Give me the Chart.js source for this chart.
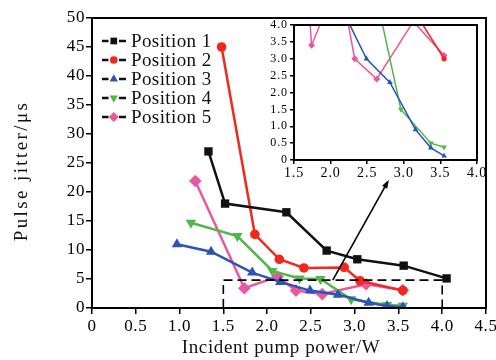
<!DOCTYPE html>
<html>
<head>
<meta charset="utf-8">
<script src="https://cdn.jsdelivr.net/npm/chart.js@4.4.1/dist/chart.umd.min.js"></script>
<style>
  html, body { margin: 0; padding: 0; background: #fff; }
  #wrap { position: relative; width: 496px; height: 360px; }
  #main { position: absolute; left: 0; top: 0; }
  #inset { position: absolute; left: 258px; top: 20px; }
</style>
</head>
<body>
<div id="wrap">
  <canvas id="main" width="496" height="360"></canvas>
  <canvas id="inset" width="234" height="162"></canvas>
</div>
<script>
// values
const seriesNames = ["Position 1", "Position 2", "Position 3", "Position 4", "Position 5"];

const pos1Power = [1.33, 1.52, 2.22, 2.68, 3.03, 3.56, 4.05];
const pos1Jitter = [27, 18, 16.5, 9.9, 8.4, 7.3, 5.1];
const pos2Power = [1.48, 1.86, 2.14, 2.42, 2.88, 3.06, 3.55];
const pos2Jitter = [45, 12.7, 8.4, 6.9, 7.0, 4.7, 3.0];
const pos3Power = [0.97, 1.36, 1.83, 2.15, 2.49, 2.81, 3.16, 3.37, 3.55];
const pos3Jitter = [11.0, 9.7, 6.1, 4.5, 3.0, 2.3, 0.9, 0.36, 0.12];
const pos4Power = [1.13, 1.66, 2.06, 2.37, 2.61, 2.96, 3.37, 3.55];
const pos4Jitter = [14.7, 12.4, 6.4, 5.1, 5.0, 1.5, 0.5, 0.38];
const pos5Power = [1.18, 1.74, 2.12, 2.33, 2.63, 3.13, 3.55];
const pos5Jitter = [21.9, 3.4, 5.4, 3.0, 2.4, 4.1, 3.1];

const xTickLabels = ["0", "0.5", "1.0", "1.5", "2.0", "2.5", "3.0", "3.5", "4.0", "4.5"];
const yTickLabels = ["0", "5", "10", "15", "20", "25", "30", "35", "40", "45", "50"];
const insetXTickLabels = ["1.5", "2.0", "2.5", "3.0", "3.5", "4.0"];
const insetYTickLabels = ["0", "0.5", "1.0", "1.5", "2.0", "2.5", "3.0", "3.5", "4.0"];

// zoomed region marked on the main plot, and the arrow to the inset
const zoomBoxX = [1.5, 1.5, 4.0, 4.0];
const zoomBoxY = [0, 4.8, 4.8, 0];
const arrowX = [2.75, 3.39];
const arrowY = [4.8, 22.1];

const serif = "'Liberation Serif', 'Times New Roman', serif";
const colors = ["#111111", "#f0281e", "#2b53b8", "#4fb847", "#e9589f"];
const markers = [
  { style: "rect", rotation: 0, radius: 5.9 },
  { style: "circle", rotation: 0, radius: 4.8 },
  { style: "triangle", rotation: 0, radius: 6 },
  { style: "triangle", rotation: 180, radius: 6 },
  { style: "rectRot", rotation: 0, radius: 6.3 },
];

const powers = [pos1Power, pos2Power, pos3Power, pos4Power, pos5Power];
const jitters = [pos1Jitter, pos2Jitter, pos3Jitter, pos4Jitter, pos5Jitter];

function toPoints(xs, ys) {
  return xs.map((x, i) => ({ x, y: ys[i] }));
}

function makeDatasets(small) {
  return seriesNames.map((name, i) => ({
    label: name,
    data: toPoints(powers[i], jitters[i]),
    borderColor: colors[i],
    backgroundColor: colors[i],
    borderWidth: small ? 1.5 : 2.5,
    pointStyle: markers[i].style,
    rotation: markers[i].rotation,
    pointRadius: small ? markers[i].radius * 0.55 : markers[i].radius,
    pointBorderWidth: 0,
    pointHoverRadius: 0,
    tension: 0,
  }));
}

function axisStyle(fontSize, tickLength, labels, padding, step) {
  return {
    ticks: {
      font: { family: serif, size: fontSize },
      color: "#000",
      padding: padding,
      stepSize: step,
      autoSkip: false,
      maxRotation: 0,
      callback: (value, index) => labels[index],
    },
    grid: {
      display: true,
      drawOnChartArea: false,
      drawTicks: true,
      tickLength: tickLength,
      color: "#000",
      lineWidth: 1.5,
    },
    border: { display: true, color: "#000", width: 2 },
  };
}

const spacing = {
  id: "spacing",
  beforeDraw(chart) {
    chart.ctx.letterSpacing = chart.canvas.id === "main" ? "0.6px" : "0.9px";
  },
};

const frame = {
  id: "frame",
  afterDraw(chart) {
    const { ctx, chartArea } = chart;
    ctx.save();
    ctx.strokeStyle = "#000";
    ctx.lineWidth = 2;
    ctx.strokeRect(chartArea.left, chartArea.top, chartArea.right - chartArea.left, chartArea.bottom - chartArea.top);
    ctx.restore();
  },
};

const annotations = {
  id: "annotations",
  afterDatasetsDraw(chart) {
    const { ctx, scales } = chart;
    const sx = scales.x;
    const sy = scales.y;
    ctx.save();
    // dashed box
    ctx.strokeStyle = "#000";
    ctx.lineWidth = 1.6;
    ctx.setLineDash([9, 5]);
    ctx.beginPath();
    zoomBoxX.forEach((x, i) => {
      const px = sx.getPixelForValue(x);
      const py = sy.getPixelForValue(zoomBoxY[i]);
      if (i === 0) ctx.moveTo(px, py); else ctx.lineTo(px, py);
    });
    ctx.stroke();
    ctx.setLineDash([]);
    // arrow
    const x0 = sx.getPixelForValue(arrowX[0]);
    const y0 = sy.getPixelForValue(arrowY[0]);
    const x1 = sx.getPixelForValue(arrowX[1]);
    const y1 = sy.getPixelForValue(arrowY[1]);
    const angle = Math.atan2(y1 - y0, x1 - x0);
    const head = 9;
    ctx.lineWidth = 1.6;
    ctx.beginPath();
    ctx.moveTo(x0, y0);
    ctx.lineTo(x1 - Math.cos(angle) * head * 0.8, y1 - Math.sin(angle) * head * 0.8);
    ctx.stroke();
    ctx.fillStyle = "#000";
    ctx.beginPath();
    ctx.moveTo(x1, y1);
    ctx.lineTo(x1 - head * Math.cos(angle - 0.33), y1 - head * Math.sin(angle - 0.33));
    ctx.lineTo(x1 - head * Math.cos(angle + 0.33), y1 - head * Math.sin(angle + 0.33));
    ctx.closePath();
    ctx.fill();
    ctx.restore();
  },
};

const legendAndTitles = {
  id: "legendAndTitles",
  afterDraw(chart) {
    const ctx = chart.ctx;
    ctx.save();
    // legend
    seriesNames.forEach((name, i) => {
      const y = 41 + i * 19;
      ctx.strokeStyle = "#111";
      ctx.lineWidth = 2.6;
      ctx.beginPath();
      ctx.moveTo(102, y);
      ctx.lineTo(108.5, y);
      ctx.moveTo(119, y);
      ctx.lineTo(126, y);
      ctx.stroke();
      ctx.fillStyle = colors[i];
      ctx.strokeStyle = colors[i];
      Chart.helpers.drawPoint(ctx, {
        pointStyle: markers[i].style,
        rotation: markers[i].rotation,
        radius: markers[i].radius * 0.8,
        borderWidth: 0,
      }, 113.8, y);
      ctx.fillStyle = "#111";
      ctx.letterSpacing = "0.4px";
      ctx.font = "19px " + serif;
      ctx.textAlign = "left";
      ctx.textBaseline = "middle";
      ctx.fillText(name, 131, y + 1);
    });
    // axis titles
    ctx.fillStyle = "#111";
    ctx.font = "19px " + serif;
    ctx.textAlign = "center";
    ctx.textBaseline = "middle";
    ctx.letterSpacing = "0.6px";
    ctx.fillText("Incident pump power/W", 281, 348);
    ctx.translate(22, 171);
    ctx.rotate(-Math.PI / 2);
    ctx.letterSpacing = "2.4px";
    ctx.fillText("Pulse jitter/\u03bcs", 0, 0);
    ctx.restore();
  },
};

new Chart(document.getElementById("main"), {
  type: "line",
  data: { datasets: makeDatasets(false) },
  options: {
    responsive: false,
    animation: false,
    events: [],
    layout: { padding: { top: 18, right: 10, left: 0, bottom: 0 } },
    plugins: { legend: { display: false }, tooltip: { enabled: false } },
    scales: {
      x: Object.assign({
        type: "linear", min: 0, max: 4.5,
        afterFit(s) { s.height = 52; s.paddingLeft = 0; s.paddingRight = 0; },
      }, axisStyle(17, 6, xTickLabels, 2, 0.5)),
      y: Object.assign({
        type: "linear", min: 0, max: 50,
        afterFit(s) { s.width = 92; s.paddingTop = 0; s.paddingBottom = 0; },
      }, axisStyle(17, 6, yTickLabels, 1, 5)),
    },
  },
  plugins: [spacing, annotations, frame, legendAndTitles],
});

new Chart(document.getElementById("inset"), {
  type: "line",
  data: { datasets: makeDatasets(true) },
  options: {
    responsive: false,
    animation: false,
    events: [],
    layout: { padding: { top: 5, right: 15, left: 0, bottom: 0 } },
    plugins: { legend: { display: false }, tooltip: { enabled: false } },
    scales: {
      x: Object.assign({
        type: "linear", min: 1.5, max: 4.0,
        afterFit(s) { s.height = 22; s.paddingLeft = 0; s.paddingRight = 0; },
      }, axisStyle(14, 4, insetXTickLabels, 1, 0.5)),
      y: Object.assign({
        type: "linear", min: 0, max: 4,
        afterFit(s) { s.width = 36; s.paddingTop = 0; s.paddingBottom = 0; },
      }, axisStyle(12, 4, insetYTickLabels, 2, 0.5)),
    },
  },
  plugins: [spacing, frame],
});
</script>
</body>
</html>
